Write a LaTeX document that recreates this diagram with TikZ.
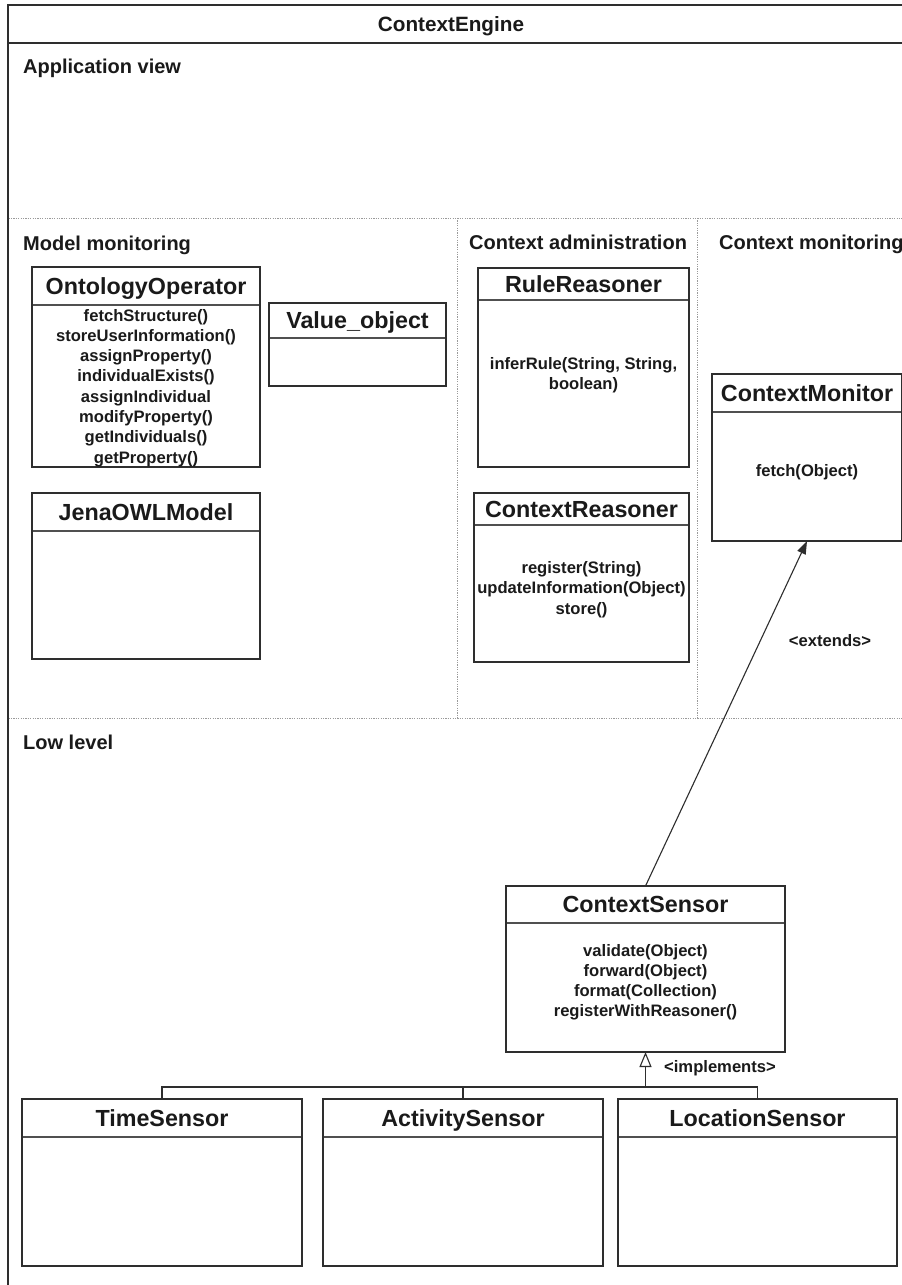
\documentclass[tikz,border=0pt]{standalone}
\usepackage{fontspec}
\setmainfont{Liberation Sans}
\usetikzlibrary{arrows.meta}

\definecolor{linegray}{HTML}{2E2E2E}
\definecolor{dividergray}{HTML}{505050}
\definecolor{zonegray}{HTML}{9A9A9A}
\definecolor{textblack}{HTML}{1A1A1A}

\tikzset{
  classbox/.style={draw=linegray, line width=2pt, fill=white, inner sep=0pt, outer sep=0pt},
  divider/.style={draw=dividergray, line width=1.3pt},
  classtitle/.style={font=\bfseries\fontsize{23.3}{28}\selectfont, text=textblack, anchor=base, inner sep=0pt},
  method/.style={font=\bfseries\fontsize{16.6}{20.3}\selectfont, text=textblack, anchor=base, inner sep=0pt},
  zonelabel/.style={font=\bfseries\fontsize{20}{24}\selectfont, text=textblack, anchor=base west, inner sep=0pt},
  zone/.style={draw=zonegray, line width=0.8pt, dash pattern=on 1.2pt off 1.2pt},
  frame/.style={draw=linegray, line width=2pt},
  link/.style={draw=linegray, line width=1.1pt},
}

% class box: name, x1, y1, x2, y2, y of divider, title
\newcommand\umlclass[7]{%
  \node[classbox, minimum width={(#4-#2)*1pt}, minimum height={(#5-#3)*1pt}]
    (#1) at ({(#2+#4)/2},{(#3+#5)/2}) {};
  \draw[divider] ({#2+1},#6) -- ({#4-1},#6);
  \node[classtitle] (#1-title) at ({(#2+#4)/2},{(#3+#6)/2+8.3}) {#7};
}

\begin{document}
\begin{tikzpicture}[x=1pt, y=-1pt]
  \useasboundingbox (0,0) rectangle (902,1285);
  \clip (0,0) rectangle (902,1285);
  \fill[white] (0,0) rectangle (902,1285);

  % package frame
  \draw[frame] (7.5,5) rectangle (915,1285.5);
  \draw[frame] (7.5,43) -- (915,43);
  \node[font=\bfseries\fontsize{20.7}{24}\selectfont, text=textblack, anchor=base, inner sep=0pt]
    (engine) at (451,31) {ContextEngine};

  % layer separators
  \draw[zone] (8.5,218) -- (902,218);
  \draw[zone] (8.5,718) -- (902,718);
  \draw[zone] (457,218) -- (457,718);
  \draw[zone] (697,218) -- (697,718);

  % layer names
  \node[zonelabel] (lay-app) at (23,73) {Application view};
  \node[zonelabel] (lay-model) at (23,250) {Model monitoring};
  \node[zonelabel] (lay-admin) at (469,249) {Context administration};
  \node[zonelabel] (lay-mon) at (719,249) {Context monitoring};
  \node[zonelabel] (lay-low) at (23,749) {Low level};

  % model monitoring
  \umlclass{onto}{32}{267}{260}{467}{305}{OntologyOperator}
  \foreach \t [count=\i from 0] in {fetchStructure(), storeUserInformation(),
      assignProperty(), individualExists(), assignIndividual, modifyProperty(),
      getIndividuals(), getProperty()}
    \node[method] (onto-m\i) at (146,{315+20.3*\i+6}) {\t};

  \umlclass{value}{269}{303}{446}{386}{338}{Value\_object}
  \umlclass{jena}{32}{493}{260}{659}{531}{JenaOWLModel}

  % context administration
  \umlclass{rule}{478}{268}{689}{467}{300}{RuleReasoner}
  \node[method] (rule-m0) at (583.5,369) {inferRule(String, String,};
  \node[method] (rule-m1) at (583.5,389) {boolean)};

  \umlclass{creason}{474}{493}{689}{662}{525}{ContextReasoner}
  \foreach \t [count=\i from 0] in {register(String), updateInformation(Object), store()}
    \node[method] (creason-m\i) at (581.5,{567+20.5*\i+6}) {\t};

  % context monitoring
  \umlclass{cmonitor}{712}{374}{902}{541}{412}{ContextMonitor}
  \node[method] (cmonitor-m0) at (807,476) {fetch(Object)};

  % low level
  \umlclass{csensor}{506}{886}{785}{1052}{923}{ContextSensor}
  \foreach \t [count=\i from 0] in {validate(Object), forward(Object),
      format(Collection), registerWithReasoner()}
    \node[method] (csensor-m\i) at (645.5,{950+20*\i+6}) {\t};

  \umlclass{tsensor}{22}{1099}{302}{1266}{1137}{TimeSensor}
  \umlclass{asensor}{323}{1099}{603}{1266}{1137}{ActivitySensor}
  \umlclass{lsensor}{618}{1099}{897}{1266}{1137}{LocationSensor}

  % extends relation
  \draw[link, -{Triangle[length=13pt, width=9pt]}] (csensor.north) -- (cmonitor.south);
  \node[method, anchor=center] (extends) at (830,641) {<extends>};

  % implements relation
  \coordinate (bus) at (645.5,1087);
  \draw[link] (tsensor.north) -- (tsensor.north |- bus) -- (lsensor.north |- bus) -- (lsensor.north);
  \draw[link] (asensor.north) -- (asensor.north |- bus);
  \draw[link, -{Triangle[open, fill=white, length=15pt, width=12pt]}] (bus) -- (csensor.south);
  \node[method, anchor=center] (implements) at (720,1068) {<implements>};
\end{tikzpicture}
\end{document}
